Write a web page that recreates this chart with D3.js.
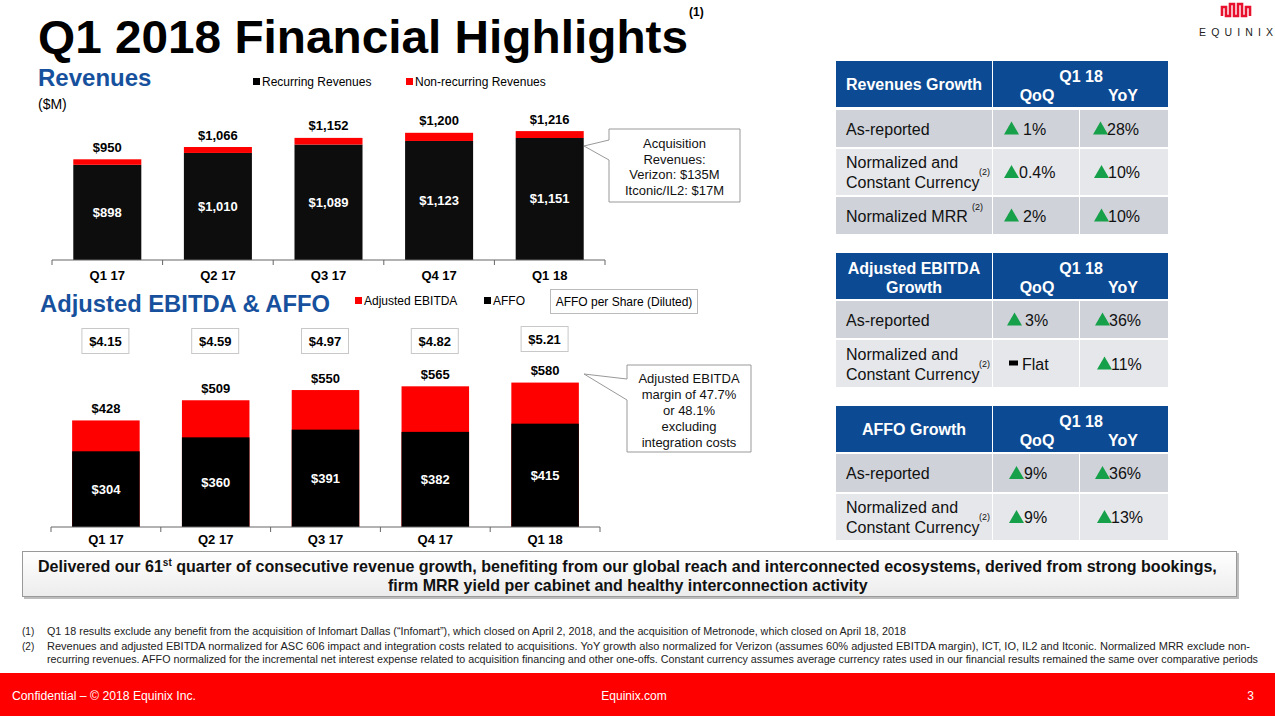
<!DOCTYPE html>
<html><head><meta charset="utf-8">
<script src="https://cdn.jsdelivr.net/npm/d3@7"></script>
<style>
html,body{margin:0;padding:0;background:#fff;}
svg{display:block;font-family:"Liberation Sans",Arial,sans-serif;}
</style></head>
<body><svg id="c" width="1275" height="716"></svg>
<script>
// ---------- data ----------
const quarters = ["Q1 17","Q2 17","Q3 17","Q4 17","Q1 18"];
const recurringRevenues = [898,1010,1089,1123,1151];
const nonRecurringRevenues = [52,56,63,77,65];
const totalRevenues = [950,1066,1152,1200,1216];
const adjustedEbitda = [428,509,550,565,580];
const affo = [304,360,391,382,415];
const affoPerShare = [4.15,4.59,4.97,4.82,5.21];

const revGrowthLabels = [["As-reported"],["Normalized and","Constant Currency"],["Normalized MRR"]];
const revGrowthQoQ = ["1%","0.4%","2%"];
const revGrowthYoY = ["28%","10%","10%"];
const ebitdaGrowthLabels = [["As-reported"],["Normalized and","Constant Currency"]];
const ebitdaGrowthQoQ = ["3%","Flat"];
const ebitdaGrowthYoY = ["36%","11%"];
const affoGrowthLabels = [["As-reported"],["Normalized and","Constant Currency"]];
const affoGrowthQoQ = ["9%","9%"];
const affoGrowthYoY = ["36%","13%"];

const footnote1 = "Q1 18 results exclude any benefit from the acquisition of Infomart Dallas (\u201cInfomart\u201d), which closed on April 2, 2018, and the acquisition of Metronode, which closed on April 18, 2018";
const footnote2a = "Revenues and adjusted EBITDA normalized for ASC 606 impact and integration costs related to acquisitions. YoY growth also normalized for Verizon (assumes 60% adjusted EBITDA margin), ICT, IO, IL2 and Itconic. Normalized MRR exclude non-";
const footnote2b = "recurring revenues. AFFO normalized for the incremental net interest expense related to acquisition financing and other one-offs. Constant currency assumes average currency rates used in our financial results remained the same over comparative periods";

// ---------- setup ----------
const RED = "#ff0000", BLUE = "#17519d", HEAD = "#0c4a93", GREEN = "#16a04a";
const svg = d3.select("#c");
const fmt = v => "$" + d3.format(",")(v);

// title
svg.append("text").attr("x",38).attr("y",53).attr("font-size",46).attr("font-weight","bold")
  .attr("textLength",650).attr("lengthAdjust","spacingAndGlyphs").text("Q1 2018 Financial Highlights");
svg.append("text").attr("x",689).attr("y",16).attr("font-size",12).attr("font-weight","bold").text("(1)");

// logo
svg.append("path").attr("d","M1222,16V7H1226V16H1230V4H1234V16H1238V4H1242V16H1246V7H1250V16")
  .attr("fill","none").attr("stroke","#e8112d").attr("stroke-width",2.6);
svg.append("text").attr("x",1199).attr("y",36).attr("font-size",10.5).attr("fill","#222")
  .attr("textLength",74).attr("lengthAdjust","spacing").text("EQUINIX");

// ---------- Revenues chart ----------
svg.append("text").attr("x",38).attr("y",86).attr("font-size",24).attr("font-weight","bold").attr("fill",BLUE).text("Revenues");
svg.append("text").attr("x",38).attr("y",109).attr("font-size",14).text("($M)");
function legendItem(x,y,color,label){
  svg.append("rect").attr("x",x).attr("y",y-8).attr("width",7).attr("height",7).attr("fill",color);
  svg.append("text").attr("x",x+9).attr("y",y).attr("font-size",12).text(label);
}
legendItem(253,86,"#000","Recurring Revenues");
legendItem(406,86,RED,"Non-recurring Revenues");

const xRev = d3.scaleBand().domain(quarters).range([52,605]).paddingInner(0.385).paddingOuter(0.1925);
const yRev = d3.scaleLinear().domain([0,1300]).range([260,260-1300*0.106]);
const gRev = svg.append("g");
quarters.forEach((q,i)=>{
  gRev.append("rect").attr("x",xRev(q)).attr("width",xRev.bandwidth())
    .attr("y",yRev(recurringRevenues[i])).attr("height",yRev(0)-yRev(recurringRevenues[i])).attr("fill","#0d0d0d");
  gRev.append("rect").attr("x",xRev(q)).attr("width",xRev.bandwidth())
    .attr("y",yRev(recurringRevenues[i]+nonRecurringRevenues[i])).attr("height",yRev(recurringRevenues[i])-yRev(recurringRevenues[i]+nonRecurringRevenues[i])).attr("fill",RED);
  const cx = xRev(q)+xRev.bandwidth()/2;
  gRev.append("text").attr("x",cx).attr("y",yRev(totalRevenues[i])-7.5).attr("text-anchor","middle")
    .attr("font-size",13).attr("font-weight","bold").text(fmt(totalRevenues[i]));
  gRev.append("text").attr("x",cx).attr("y",(yRev(recurringRevenues[i])+yRev(0))/2+4.5).attr("text-anchor","middle")
    .attr("font-size",13).attr("font-weight","bold").attr("fill","#fff").text(fmt(recurringRevenues[i]));
});
function drawAxis(x,y0,labelDy){
  const g = svg.append("g").attr("transform",`translate(0,${y0})`);
  const ax = d3.axisBottom(x).tickSize(0).tickPadding(labelDy);
  g.call(ax);
  g.select(".domain").attr("stroke","#666").attr("d",`M${x.range()[0]},0H${x.range()[1]}`);
  g.selectAll(".tick text").attr("font-size",13).attr("font-weight","bold").attr("fill","#000")
    .attr("font-family","Liberation Sans, Arial, sans-serif");
  const step = x.step(), start = x.range()[0];
  d3.range(quarters.length+1).forEach(k=>{
    g.append("line").attr("x1",start+k*step).attr("x2",start+k*step).attr("y1",0).attr("y2",5).attr("stroke","#666");
  });
}
drawAxis(xRev,260,11);

// callout helper
function callout(bx,by,bw,bh,tip,baseY1,baseY2,lines,lh,firstY){
  const d = `M${bx},${by}H${bx+bw}V${by+bh}H${bx}V${baseY2}L${tip[0]},${tip[1]}L${bx},${baseY1}Z`;
  svg.append("path").attr("d",d).attr("fill","#fff").attr("stroke","#999").attr("stroke-width",1);
  lines.forEach((t,i)=>svg.append("text").attr("x",bx+bw/2).attr("y",firstY+i*lh).attr("text-anchor","middle")
    .attr("font-size",13).attr("fill","#111").text(t));
}
callout(609,129,131,73,[584,146],140,160,["Acquisition","Revenues:","Verizon: $135M","Itconic/IL2: $17M"],15.5,148);

// ---------- EBITDA & AFFO chart ----------
svg.append("text").attr("x",40).attr("y",312).attr("font-size",24).attr("font-weight","bold").attr("fill",BLUE)
  .attr("textLength",290).attr("lengthAdjust","spacingAndGlyphs").text("Adjusted EBITDA & AFFO");
legendItem(355,305,RED,"Adjusted EBITDA");
legendItem(484,305,"#000","AFFO");
svg.append("rect").attr("x",550.5).attr("y",289.5).attr("width",147).attr("height",24).attr("fill","#fff").attr("stroke","#bbb");
svg.append("text").attr("x",624).attr("y",306).attr("text-anchor","middle").attr("font-size",12).text("AFFO per Share (Diluted)");

const xEb = d3.scaleBand().domain(quarters).range([51,600]).paddingInner(0.385).paddingOuter(0.1925);
const yEb = d3.scaleLinear().domain([0,600]).range([527,527-600*0.249]);
const gEb = svg.append("g");
quarters.forEach((q,i)=>{
  const cx = xEb(q)+xEb.bandwidth()/2;
  gEb.append("rect").attr("x",xEb(q)).attr("width",xEb.bandwidth())
    .attr("y",yEb(adjustedEbitda[i])).attr("height",yEb(0)-yEb(adjustedEbitda[i])).attr("fill",RED);
  gEb.append("rect").attr("x",xEb(q)).attr("width",xEb.bandwidth())
    .attr("y",yEb(affo[i])).attr("height",yEb(0)-yEb(affo[i])).attr("fill","#000");
  gEb.append("text").attr("x",cx).attr("y",yEb(adjustedEbitda[i])-7.5).attr("text-anchor","middle")
    .attr("font-size",13).attr("font-weight","bold").text(fmt(adjustedEbitda[i]));
  gEb.append("text").attr("x",cx).attr("y",(yEb(affo[i])+yEb(0))/2+4.5).attr("text-anchor","middle")
    .attr("font-size",13).attr("font-weight","bold").attr("fill","#fff").text(fmt(affo[i]));
  const by = i===4 ? 326 : 328;
  gEb.append("rect").attr("x",cx-24).attr("y",by+0.5).attr("width",47).attr("height",25).attr("fill","#fff").attr("stroke","#c8c8c8");
  gEb.append("text").attr("x",cx-0.5).attr("y",by+17.5).attr("text-anchor","middle").attr("font-size",13).attr("font-weight","bold")
    .text("$"+affoPerShare[i].toFixed(2));
});
drawAxis(xEb,527,8);
callout(627,365,124,87,[584,374],379,400,["Adjusted EBITDA","margin of 47.7%","or 48.1%","excluding","integration costs"],16,383);

// ---------- Tables ----------
function table(y0,headLines,labels,qoq,yoy,rowYs,qTri,yTri){
  const x0=836, x1=992, x2=1079, x3=1168;
  svg.append("rect").attr("x",x0).attr("y",y0).attr("width",x1-x0).attr("height",46).attr("fill",HEAD);
  svg.append("rect").attr("x",x1+1).attr("y",y0).attr("width",x3-x1-1).attr("height",46).attr("fill",HEAD);
  headLines.forEach((t,i)=>svg.append("text").attr("x",(x0+x1)/2).attr("y",headLines.length===1? y0+29 : y0+21+i*19)
    .attr("text-anchor","middle").attr("font-size",16).attr("font-weight","bold").attr("fill","#fff").text(t));
  svg.append("text").attr("x",1081).attr("y",y0+21).attr("text-anchor","middle").attr("font-size",16).attr("font-weight","bold").attr("fill","#fff").text("Q1 18");
  svg.append("text").attr("x",1037).attr("y",y0+40).attr("text-anchor","middle").attr("font-size",16).attr("font-weight","bold").attr("fill","#fff").text("QoQ");
  svg.append("text").attr("x",1123).attr("y",y0+40).attr("text-anchor","middle").attr("font-size",16).attr("font-weight","bold").attr("fill","#fff").text("YoY");
  rowYs.forEach((r,i)=>{
    const fill = i%2===0 ? "#cfd2d9" : "#e6e7eb";
    svg.append("rect").attr("x",x0).attr("y",r[0]).attr("width",x1-x0).attr("height",r[1]-r[0]).attr("fill",fill);
    svg.append("rect").attr("x",x1+1).attr("y",r[0]).attr("width",x2-x1-1).attr("height",r[1]-r[0]).attr("fill",fill);
    svg.append("rect").attr("x",x2+1).attr("y",r[0]).attr("width",x3-x2-1).attr("height",r[1]-r[0]).attr("fill",fill);
    const cy=(r[0]+r[1])/2;
    const lab = labels[i];
    if(lab.length===1){
      svg.append("text").attr("x",846).attr("y",cy+6).attr("font-size",16).attr("fill","#111").text(lab[0]);
    } else {
      svg.append("text").attr("x",846).attr("y",cy-4).attr("font-size",16).attr("fill","#111").text(lab[0]);
      svg.append("text").attr("x",846).attr("y",cy+16).attr("font-size",16).attr("fill","#111").text(lab[1]);
    }
    if(lab.length>1 || lab[0]==="Normalized MRR"){
      const sx = lab.length>1 ? 979 : 972, sy = lab.length>1 ? cy+3 : cy-6;
      svg.append("text").attr("x",sx).attr("y",sy).attr("font-size",9).attr("fill","#111").text("(2)");
    }
    // QoQ
    const qv = qoq[i];
    if(qv==="Flat"){
      svg.append("rect").attr("x",1009).attr("y",cy-3).attr("width",9).attr("height",5).attr("fill","#000");
      svg.append("text").attr("x",1022).attr("y",cy+6).attr("font-size",16).attr("fill","#111").text(qv);
    } else {
      const tx = qTri[i][0];
      svg.append("path").attr("d",`M${tx},${cy+6}L${tx+7.5},${cy-7}L${tx+15},${cy+6}Z`).attr("fill",GREEN);
      svg.append("text").attr("x",qTri[i][1]).attr("y",cy+6).attr("font-size",16).attr("fill","#111").text(qv);
    }
    const ty = yTri[i];
    svg.append("path").attr("d",`M${ty},${cy+6}L${ty+7.5},${cy-7}L${ty+15},${cy+6}Z`).attr("fill",GREEN);
    svg.append("text").attr("x",ty+14).attr("y",cy+6).attr("font-size",16).attr("fill","#111").text(yoy[i]);
  });
}
table(61,["Revenues Growth"],revGrowthLabels,revGrowthQoQ,revGrowthYoY,[[110,147],[149,195],[197,234]],
  [[1004,1023],[1004,1019],[1004,1023]],[1093,1094,1094]);
table(253,["Adjusted EBITDA","Growth"],ebitdaGrowthLabels,ebitdaGrowthQoQ,ebitdaGrowthYoY,[[301,338],[340,387]],
  [[1007,1025],null],[1095,1097]);
table(406,["AFFO Growth"],affoGrowthLabels,affoGrowthQoQ,affoGrowthYoY,[[454,492],[494,540]],
  [[1009,1024],[1009,1024]],[1095,1097]);

// ---------- banner ----------
const defs = svg.append("defs");
const lg = defs.append("linearGradient").attr("id","bg").attr("x1",0).attr("y1",0).attr("x2",0).attr("y2",1);
lg.append("stop").attr("offset","0%").attr("stop-color","#ffffff");
lg.append("stop").attr("offset","100%").attr("stop-color","#ececec");
svg.append("rect").attr("x",24).attr("y",553).attr("width",1215).attr("height",46).attr("fill","#bdbdbd");
svg.append("rect").attr("x",22.5).attr("y",551.5).attr("width",1214).attr("height",45).attr("fill","url(#bg)").attr("stroke","#999");
const l1 = svg.append("text").attr("x",0).attr("y",0).attr("font-size",16).attr("font-weight","bold").attr("fill","#111");
l1.append("tspan").text("Delivered our 61");
l1.append("tspan").attr("font-size",10).attr("dy",-6).text("st");
l1.append("tspan").attr("dy",6).text(" quarter of consecutive revenue growth, benefiting from our global reach and interconnected ecosystems, derived from strong bookings,");
const l2 = svg.append("text").attr("x",0).attr("y",0).attr("font-size",16).attr("font-weight","bold").attr("fill","#111")
  .text("firm MRR yield per cabinet and healthy interconnection activity");
function fit(sel,x,y,w){
  const bb = sel.node().getBBox();
  const s = w/bb.width;
  sel.attr("transform",`translate(${x},${y}) scale(${s},1)`);
}
fit(l1,38,572,1180);
fit(l2,388,591,480);

// ---------- footnotes ----------
function fn(x,y,t,w){
  const e = svg.append("text").attr("x",x).attr("y",y).attr("font-size",10).attr("fill","#222").text(t);
  if(w) e.attr("textLength",w).attr("lengthAdjust","spacingAndGlyphs");
}
fn(22,635,"(1)"); fn(47,635,footnote1,859);
fn(22,650,"(2)"); fn(47,650,footnote2a,1203); fn(47,663,footnote2b,1211);

// ---------- footer ----------
svg.append("rect").attr("x",0).attr("y",673).attr("width",1275).attr("height",43).attr("fill","#ff0000");
svg.append("text").attr("x",12).attr("y",700).attr("font-size",12).attr("fill","#fff")
  .attr("textLength",184).attr("lengthAdjust","spacingAndGlyphs").text("Confidential \u2013 \u00a9 2018 Equinix Inc.");
svg.append("text").attr("x",634).attr("y",700).attr("font-size",12).attr("fill","#fff").attr("text-anchor","middle").text("Equinix.com");
svg.append("text").attr("x",1254).attr("y",700).attr("font-size",12).attr("fill","#fff").attr("text-anchor","end").text("3");
</script></body></html>
